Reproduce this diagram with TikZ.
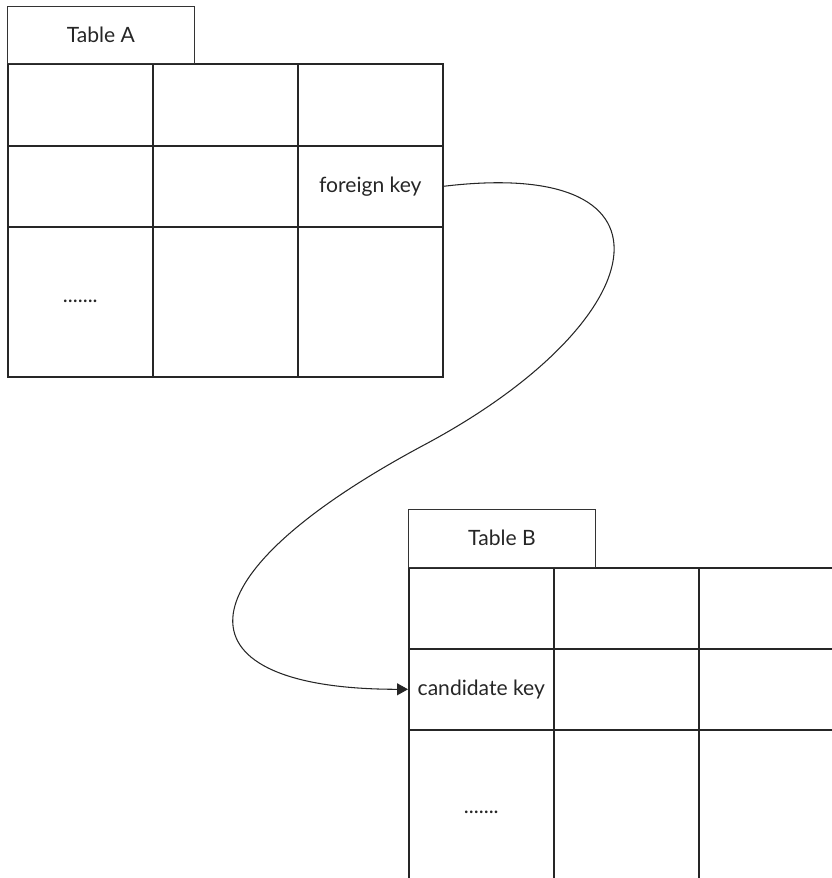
\documentclass[tikz,border=0pt]{standalone}
\usepackage{fontspec}
\setmainfont{Lato}
\usetikzlibrary{arrows.meta,positioning}

\begin{document}
\begin{tikzpicture}[>={Triangle[length=0.22cm,width=0.24cm]},
  cell/.style={draw=black!85, line width=0.9pt, minimum width=2.9cm, inner sep=0pt, anchor=north west},
  head/.style={draw=black!80, line width=0.5pt, minimum width=3.74cm, minimum height=1.15cm, inner sep=0pt, anchor=north west, font=\fontsize{12}{14}\selectfont, text=black!85},
  txt/.style={font=\fontsize{12}{14}\selectfont, text=black!85, inner sep=1pt}]
  \useasboundingbox (0,0) rectangle (16.64,-17.56);
  \clip (0,0) rectangle (16.64,-17.56);

  % Table A
  \begin{scope}[shift={(0.14,-0.12)}]
    \foreach \r/\y/\h in {1/-1.14/1.64, 2/-2.78/1.62, 3/-4.40/3.0}
      \foreach \c/\x in {1/0, 2/2.9, 3/5.8}
        \node[cell, minimum height=\h cm] (A\r\c) at (\x,\y) {};
    \node[head] (tabA) at (0,0) {Table A};
    \node[txt] (fkey) at (A23) {foreign key};
    \node[txt] (dotsA) at (A31) {.......};
  \end{scope}

  % Table B
  \begin{scope}[shift={(8.16,-10.18)}]
    \foreach \r/\y/\h in {1/-1.16/1.62, 2/-2.78/1.62, 3/-4.40/3.3}
      \foreach \c/\x in {1/0, 2/2.9, 3/5.8}
        \node[cell, minimum height=\h cm] (B\r\c) at (\x,\y) {};
    \node[head] (tabB) at (0,0) {Table B};
    \node[txt] (ckey) at (B21) {candidate key};
    \node[txt] (dotsB) at (B31) {.......};
  \end{scope}

  % foreign key -> candidate key
  \coordinate (via) at (8.48,-8.9);
  \draw[->, line width=0.6pt, black!85] (A23.east) .. controls +(5.0,0.6) and +(4.58,2.44) .. (via)
    .. controls +(-5.1,-2.73) and +(-4.6,0) .. (B21.west);
\end{tikzpicture}
\end{document}
